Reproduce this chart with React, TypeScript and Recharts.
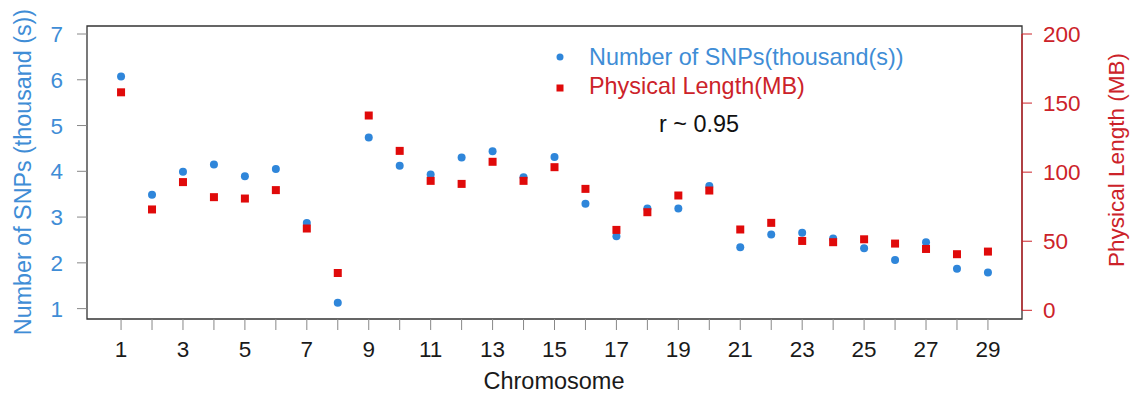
import React from 'react';
import { ScatterChart, Scatter, XAxis, YAxis, ReferenceArea, ReferenceLine, Legend, Label } from 'recharts';

const chromosomes = [1, 2, 3, 4, 5, 6, 7, 8, 9, 10, 11, 12, 13, 14, 15, 16, 17, 18, 19, 20, 21, 22, 23, 24, 25, 26, 27, 28, 29];
const snpThousands = [6.07, 3.49, 3.99, 4.15, 3.89, 4.05, 2.87, 1.13, 4.74, 4.12, 3.93, 4.3, 4.44, 3.87, 4.31, 3.29, 2.58, 3.19, 3.19, 3.68, 2.34, 2.62, 2.66, 2.53, 2.32, 2.06, 2.45, 1.87, 1.79];
const physicalLengthMB = [157.8, 73, 92.8, 81.9, 80.9, 87, 59.2, 27, 141, 115.4, 93.7, 91.5, 107.5, 93.7, 103.6, 87.9, 58.2, 71, 83.1, 86.7, 58.5, 63.3, 50.2, 49.3, 51.4, 48.3, 44.4, 40.6, 42.5];
const leftTicks = [1, 2, 3, 4, 5, 6, 7];
const rightTicks = [0, 50, 100, 150, 200];
const xTicks = chromosomes;

const FONT = '"Liberation Sans", Arial, sans-serif';
const BLUE = '#2f86da';
const BLUE_TEXT = '#3f8dd6';
const RED = '#e00a0a';
const RED_TEXT = '#cc2229';

const snpData = chromosomes.map((c, i) => ({ chr: c, v: snpThousands[i] }));
const lenData = chromosomes.map((c, i) => ({ chr: c, v: physicalLengthMB[i] }));

const XTick = (props: any) => {
  const { x, y, payload } = props;
  if (payload.value % 2 !== 1) return <g />;
  return (
    <text x={x} y={y + 27} textAnchor="middle" fontSize={22.5} fontFamily={FONT} fill="#1a1a1a">
      {payload.value}
    </text>
  );
};

const LeftTick = (props: any) => {
  const { y, payload } = props;
  return (
    <text x={63} y={y + 8} textAnchor="end" fontSize={22.5} fontFamily={FONT} fill={BLUE_TEXT}>
      {payload.value}
    </text>
  );
};

const RightTick = (props: any) => {
  const { y, payload } = props;
  return (
    <text x={1043} y={y + 8} textAnchor="start" fontSize={22.5} fontFamily={FONT} fill={RED_TEXT}>
      {payload.value}
    </text>
  );
};

const Dot = (props: any) => <circle cx={props.cx} cy={props.cy} r={4} fill={BLUE} />;
const Sq = (props: any) => <rect x={props.cx - 4} y={props.cy - 4} width={8} height={8} fill={RED} />;

const renderLegend = () => (
  <svg width={420} height={120} style={{ display: 'block' }}>
    <circle cx={20} cy={27} r={3.5} fill={BLUE} />
    <text x={49} y={35} fontSize={23.4} fontFamily={FONT} fill={BLUE_TEXT}>Number of SNPs(thousand(s))</text>
    <rect x={16.5} y={54.5} width={7} height={7} fill={RED} />
    <text x={49} y={64} fontSize={23.4} fontFamily={FONT} fill={RED_TEXT}>Physical Length(MB)</text>
    <text x={119} y={102} fontSize={23.4} fontFamily={FONT} fill="#111">r ~ 0.95</text>
  </svg>
);

export default function App() {
  return (
    <div style={{ position: 'absolute', left: 0, top: 0, background: '#fff' }}>
      <ScatterChart width={1139} height={396} margin={{ top: 26, right: 0, bottom: 0, left: 0 }}>
        <XAxis
          dataKey="chr"
          type="number"
          domain={[-0.1, 30.1]}
          allowDataOverflow
          ticks={xTicks}
          interval={0}
          height={77}
          tickSize={11}
          tickMargin={0}
          axisLine={false}
          tickLine={{ stroke: '#888' }}
          tick={<XTick />}
        >
          <Label
            content={() => (
              <text x={554} y={389} textAnchor="middle" fontSize={23.5} fontFamily={FONT} fill="#1a1a1a">
                Chromosome
              </text>
            )}
          />
        </XAxis>
        <YAxis
          yAxisId="left"
          dataKey="v"
          type="number"
          domain={[0.773, 7.175]}
          allowDataOverflow
          ticks={leftTicks}
          interval={0}
          width={87}
          tickSize={10}
          tickMargin={0}
          axisLine={false}
          tickLine={{ stroke: '#888' }}
          tick={<LeftTick />}
        >
          <Label
            content={() => (
              <text
                transform="translate(30.5,172) rotate(-90)"
                textAnchor="middle"
                fontSize={23.3}
                fontFamily={FONT}
                fill={BLUE_TEXT}
              >
                Number of SNPs (thousand (s))
              </text>
            )}
          />
        </YAxis>
        <YAxis
          yAxisId="right"
          orientation="right"
          dataKey="v"
          type="number"
          domain={[-6.3, 205.8]}
          allowDataOverflow
          ticks={rightTicks}
          interval={0}
          width={117}
          tickSize={10}
          tickMargin={0}
          axisLine={false}
          tickLine={{ stroke: RED_TEXT }}
          tick={<RightTick />}
        >
          <Label
            content={() => (
              <text
                transform="translate(1124,160) rotate(-90)"
                textAnchor="middle"
                fontSize={22.5}
                fontFamily={FONT}
                fill={RED_TEXT}
              >
                Physical Length (MB)
              </text>
            )}
          />
        </YAxis>
        <ReferenceArea
          yAxisId="left"
          x1={-0.1}
          x2={30.1}
          y1={0.773}
          y2={7.175}
          fill="none"
          fillOpacity={0}
          stroke="#333"
          strokeWidth={1.3}
          ifOverflow="visible"
        />
        <ReferenceLine
          yAxisId="right"
          segment={[{ x: 30.1, y: 0 }, { x: 30.1, y: 200 }]}
          stroke={RED_TEXT}
          strokeWidth={1.3}
          ifOverflow="visible"
        />
        <Scatter yAxisId="left" data={snpData} shape={<Dot />} isAnimationActive={false} />
        <Scatter yAxisId="right" data={lenData} shape={<Sq />} isAnimationActive={false} />
        <Legend
          layout="vertical"
          align="center"
          verticalAlign="middle"
          content={renderLegend}
          wrapperStyle={{ left: 540, top: 30, width: 420, height: 120 }}
        />
      </ScatterChart>
    </div>
  );
}
